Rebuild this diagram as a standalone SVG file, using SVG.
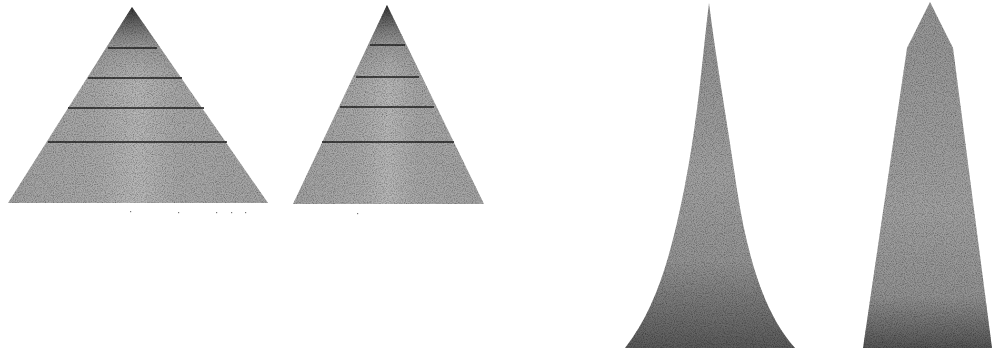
<svg xmlns="http://www.w3.org/2000/svg" width="993" height="351" viewBox="0 0 993 351">
<style>
.tier{stroke:#222;stroke-width:1.3;fill:none}
.speck{fill:#777}
</style>
<defs>
<linearGradient id="pyrH" x1="0" y1="0" x2="1" y2="0">
<stop offset="0" stop-color="#a2a2a2"/>
<stop offset="0.35" stop-color="#aaa"/>
<stop offset="0.5" stop-color="#b8b8b8"/>
<stop offset="0.65" stop-color="#a8a8a8"/>
<stop offset="1" stop-color="#a4a4a4"/>
</linearGradient>
<linearGradient id="tipV" x1="0" y1="0" x2="0" y2="1">
<stop offset="0" stop-color="#333"/>
<stop offset="0.2" stop-color="#888" stop-opacity="0.6"/>
<stop offset="0.4" stop-color="#999" stop-opacity="0"/>
</linearGradient>
<linearGradient id="spireV" x1="0" y1="0" x2="0" y2="1">
<stop offset="0" stop-color="#929292"/>
<stop offset="0.5" stop-color="#a2a2a2"/>
<stop offset="0.75" stop-color="#949494"/>
<stop offset="1" stop-color="#5a5a5a"/>
</linearGradient>
<linearGradient id="obelV" x1="0" y1="0" x2="0" y2="1">
<stop offset="0" stop-color="#969696"/>
<stop offset="0.6" stop-color="#a2a2a2"/>
<stop offset="0.85" stop-color="#929292"/>
<stop offset="1" stop-color="#555"/>
</linearGradient>
<filter id="grain" x="0" y="0" width="100%" height="100%">
<feTurbulence type="fractalNoise" baseFrequency="0.9" numOctaves="2" seed="3" result="n"/>
<feColorMatrix in="n" type="matrix" values="0 0 0 0 0  0 0 0 0 0  0 0 0 0 0  0 0 0 -1.2 0.75" result="a"/>
<feComposite in="a" in2="SourceGraphic" operator="in" result="d"/>
<feMerge><feMergeNode in="SourceGraphic"/><feMergeNode in="d"/></feMerge>
</filter>
</defs>

<g id="pyramid1" filter="url(#grain)">
<polygon points="132,7 268,203 8,203" fill="url(#pyrH)"/>
<polygon points="132,7 268,203 8,203" fill="url(#tipV)"/>
<line class="tier" x1="108" y1="48" x2="157" y2="48"/>
<line class="tier" x1="88" y1="78" x2="182" y2="78"/>
<line class="tier" x1="68" y1="108" x2="204" y2="108"/>
<line class="tier" x1="48" y1="142" x2="227" y2="142"/>
</g>
<g id="specks1">
<rect class="speck" x="130" y="211" width="1.2" height="1.2"/>
<rect class="speck" x="178" y="212" width="1.2" height="1.2"/>
<rect class="speck" x="216" y="212" width="1.2" height="1.2"/>
<rect class="speck" x="231" y="212" width="1.2" height="1.2"/>
<rect class="speck" x="245" y="212" width="1.2" height="1.2"/>
<rect class="speck" x="357" y="213" width="1.2" height="1.2"/>
</g>

<g id="pyramid2" filter="url(#grain)">
<polygon points="387,5 484,204 293,204" fill="url(#pyrH)"/>
<polygon points="387,5 484,204 293,204" fill="url(#tipV)"/>
<line class="tier" x1="370" y1="45" x2="405" y2="45"/>
<line class="tier" x1="356" y1="77" x2="419" y2="77"/>
<line class="tier" x1="340" y1="107" x2="434" y2="107"/>
<line class="tier" x1="322" y1="142" x2="454" y2="142"/>
</g>

<g id="spire" filter="url(#grain)">
<path d="M709,3 C702,60 698,120 684,190 C670,260 655,310 625,348 L795,348 C765,315 748,260 737,190 C727,120 716,60 709,3 Z" fill="url(#spireV)"/>
</g>

<g id="obelisk" filter="url(#grain)">
<path d="M930,2 L953,48 L992,348 L863,348 L907,48 Z" fill="url(#obelV)"/>
</g>
</svg>
